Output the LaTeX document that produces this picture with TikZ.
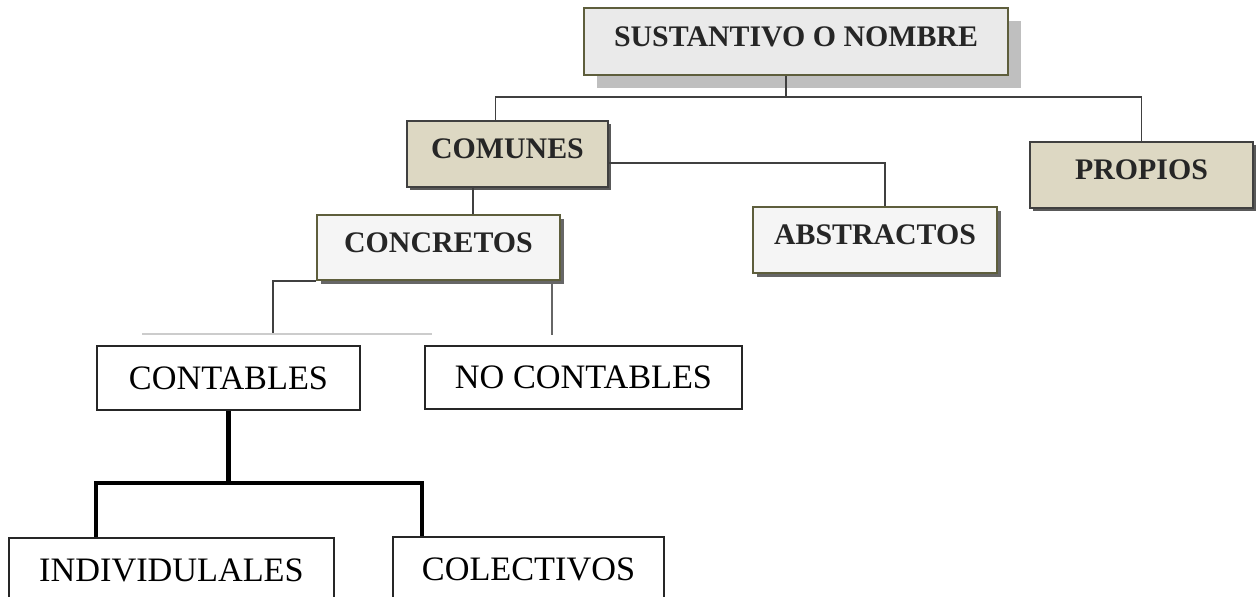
\documentclass[tikz,border=0pt]{standalone}
\usepackage{fontspec}
\setmainfont{Liberation Serif}
\usepackage{xcolor}
\usepackage{tikz}
\usetikzlibrary{positioning, calc, shadows}
\definecolor{olivedraw}{HTML}{5E5E3C}
\definecolor{beigefill}{HTML}{DDD8C3}
\definecolor{greyfill}{HTML}{EAEAEA}
\definecolor{lightfill}{HTML}{F5F5F5}

\begin{document}
\begin{tikzpicture}[x=0.02cm, y=-0.02cm,
  catbox/.style={rectangle, draw=olivedraw, line width=1.1pt, inner sep=0pt, text depth=0.2cm,
    font=\fontsize{17}{20}\selectfont\bfseries, text=black!85},
  topbox/.style={catbox, fill=greyfill,
    drop shadow={shadow xshift=0.26cm, shadow yshift=-0.26cm, fill=black!25, opacity=1}},
  combox/.style={catbox, fill=beigefill, draw=black!75,
    drop shadow={shadow xshift=0.06cm, shadow yshift=-0.06cm, fill=black!65, opacity=1}},
  subbox/.style={catbox, fill=lightfill,
    drop shadow={shadow xshift=0.08cm, shadow yshift=-0.08cm, fill=black!60, opacity=1}},
  plainbox/.style={rectangle, draw=black!85, line width=1.1pt, fill=white, inner sep=0pt,
    font=\fontsize{19.5}{22}\selectfont},
  link/.style={draw=black!75, line width=1.1pt},
  treelink/.style={draw=black, line width=2.3pt}
]
  \clip (0,0) rectangle (1259,597);
  % categories
  \node[topbox, minimum width=8.48cm, minimum height=1.34cm] (sust) at (796,41.5) {SUSTANTIVO O NOMBRE};
  \node[combox, minimum width=4.02cm, minimum height=1.32cm] (comunes) at (507.5,154) {COMUNES};
  \node[combox, minimum width=4.46cm, minimum height=1.32cm] (propios) at (1141.5,175) {PROPIOS};
  \node[subbox, minimum width=4.86cm, minimum height=1.3cm] (concretos) at (438.5,247.5) {CONCRETOS};
  \node[subbox, minimum width=4.88cm, minimum height=1.32cm] (abstractos) at (875,240) {ABSTRACTOS};
  \node[plainbox, minimum width=5.26cm, minimum height=1.28cm] (contables) at (228.5,378) {CONTABLES};
  \node[plainbox, minimum width=6.34cm, minimum height=1.26cm] (nocontables) at (583.5,377.5) {NO CONTABLES};
  \node[plainbox, minimum width=6.5cm, minimum height=1.3cm] (indiv) at (171.5,570.5) {INDIVIDULALES};
  \node[plainbox, minimum width=5.42cm, minimum height=1.3cm] (colect) at (528.5,569.5) {COLECTIVOS};
  % connectors
  \coordinate (rail) at (0,97);
  \draw[link] ([xshift=-0.2cm]sust.south) -- ([xshift=-0.2cm]sust.south |- rail);
  \draw[link] ([xshift=-0.24cm]comunes.north) |- (rail -| propios.north) -- (propios.north);
  \draw[link] ([yshift=-0.18cm]comunes.east) -| ([xshift=0.2cm]abstractos.north);
  \draw[link] ([xshift=-0.69cm]comunes.south) -- ([xshift=0.69cm]concretos.north);
  \coordinate (contL) at (273,335);
  \coordinate (contR) at (552,335);
  \draw[link] (concretos.south west) -| (contL);
  \draw[link, draw=black!60, line width=1.6pt] (contR |- concretos.south) -- (contR);
  \draw[black!20, line width=1pt] (142,334) -- (432,334);
  \draw[treelink] (contables.south) -- ++(0,72) coordinate (fork);
  \draw[treelink] ([xshift=1.76cm]indiv.north west) |- (fork) -| ([xshift=0.6cm]colect.north west);
\end{tikzpicture}
\end{document}
